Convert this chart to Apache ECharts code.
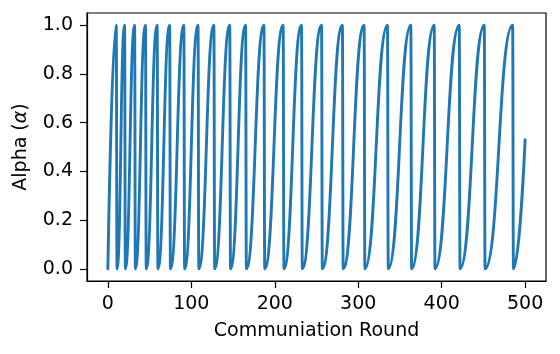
<!DOCTYPE html>
<html lang="en">
<head>
    <meta charset="UTF-8">
    <title>Alpha schedule</title>
    <script src="https://cdn.jsdelivr.net/npm/echarts@6/dist/echarts.min.js"></script>
    <style>
        html, body { margin: 0; padding: 0; background: #fff; }
    </style>
</head>
<body>
    <div id="chart" style="width: 560px; height: 354px;"></div>
    <script>
    // rounds where alpha is reset to 0 and where it reaches 1
    var rounds = [0, 10, 11, 20, 21, 32, 33, 45, 46, 59, 60, 74, 75, 91, 92, 108,
        109, 127, 128, 146, 147, 165, 166, 187, 188, 210, 211, 232, 233, 256,
        257, 281, 282, 307, 308, 335, 336, 363, 364, 391, 392, 421, 422, 451,
        452, 485, 486, 500];
    var alpha = [0, 1, 0, 1, 0, 1, 0, 1, 0, 1, 0, 1, 0, 1, 0, 1,
        0, 1, 0, 1, 0, 1, 0, 1, 0, 1, 0, 1, 0, 1,
        0, 1, 0, 1, 0, 1, 0, 1, 0, 1, 0, 1, 0, 1,
        0, 1, 0, 0.53];
    var xTicks = [0, 100, 200, 300, 400, 500];
    var yTicks = [0, 0.2, 0.4, 0.6, 0.8, 1.0];

    var lineData = [];
    for (var i = 0; i < rounds.length; i++) {
        lineData.push([rounds[i], alpha[i]]);
    }

    var font = 'DejaVu Sans';
    var chart = echarts.init(document.getElementById('chart'), null, { renderer: 'canvas' });

    var option = {
        animation: false,
        backgroundColor: '#fff',
        grid: {
            left: 87,
            right: 14,
            top: 13,
            bottom: 73,
            show: true,
            borderColor: '#000',
            borderWidth: 1.2,
            backgroundColor: 'transparent'
        },
        xAxis: {
            type: 'value',
            min: -25,
            max: 525,
            name: 'Communiation Round',
            nameLocation: 'middle',
            nameGap: 41,
            nameTextStyle: { fontFamily: font, fontSize: 19, color: '#000' },
            axisLine: { show: true, onZero: false, lineStyle: { color: '#000', width: 1.2 } },
            axisTick: { show: true, length: 7, customValues: xTicks, lineStyle: { color: '#000', width: 1.2 } },
            axisLabel: {
                customValues: xTicks,
                margin: 14,
                fontFamily: font,
                fontSize: 19,
                color: '#000'
            },
            splitLine: { show: false }
        },
        yAxis: {
            type: 'value',
            min: -0.05,
            max: 1.05,
            name: 'Alpha ({i|α})',
            nameLocation: 'middle',
            nameGap: 56,
            nameTextStyle: {
                fontFamily: font,
                fontSize: 19,
                color: '#000',
                rich: { i: { fontFamily: font, fontSize: 19, fontStyle: 'italic', color: '#000' } }
            },
            axisLine: { show: true, onZero: false, lineStyle: { color: '#000', width: 1.2 } },
            axisTick: { show: true, length: 7, customValues: yTicks, lineStyle: { color: '#000', width: 1.2 } },
            axisLabel: {
                customValues: yTicks,
                margin: 14,
                fontFamily: font,
                fontSize: 19,
                color: '#000',
                formatter: function (v) { return v.toFixed(1); }
            },
            splitLine: { show: false }
        },
        series: [{
            type: 'line',
            data: lineData,
            smooth: true,
            smoothMonotone: 'x',
            showSymbol: false,
            symbol: 'none',
            lineStyle: { color: '#1f77b4', width: 2.9, cap: 'round', join: 'round' }
        }]
    };
    chart.setOption(option);
    </script>
</body>
</html>
